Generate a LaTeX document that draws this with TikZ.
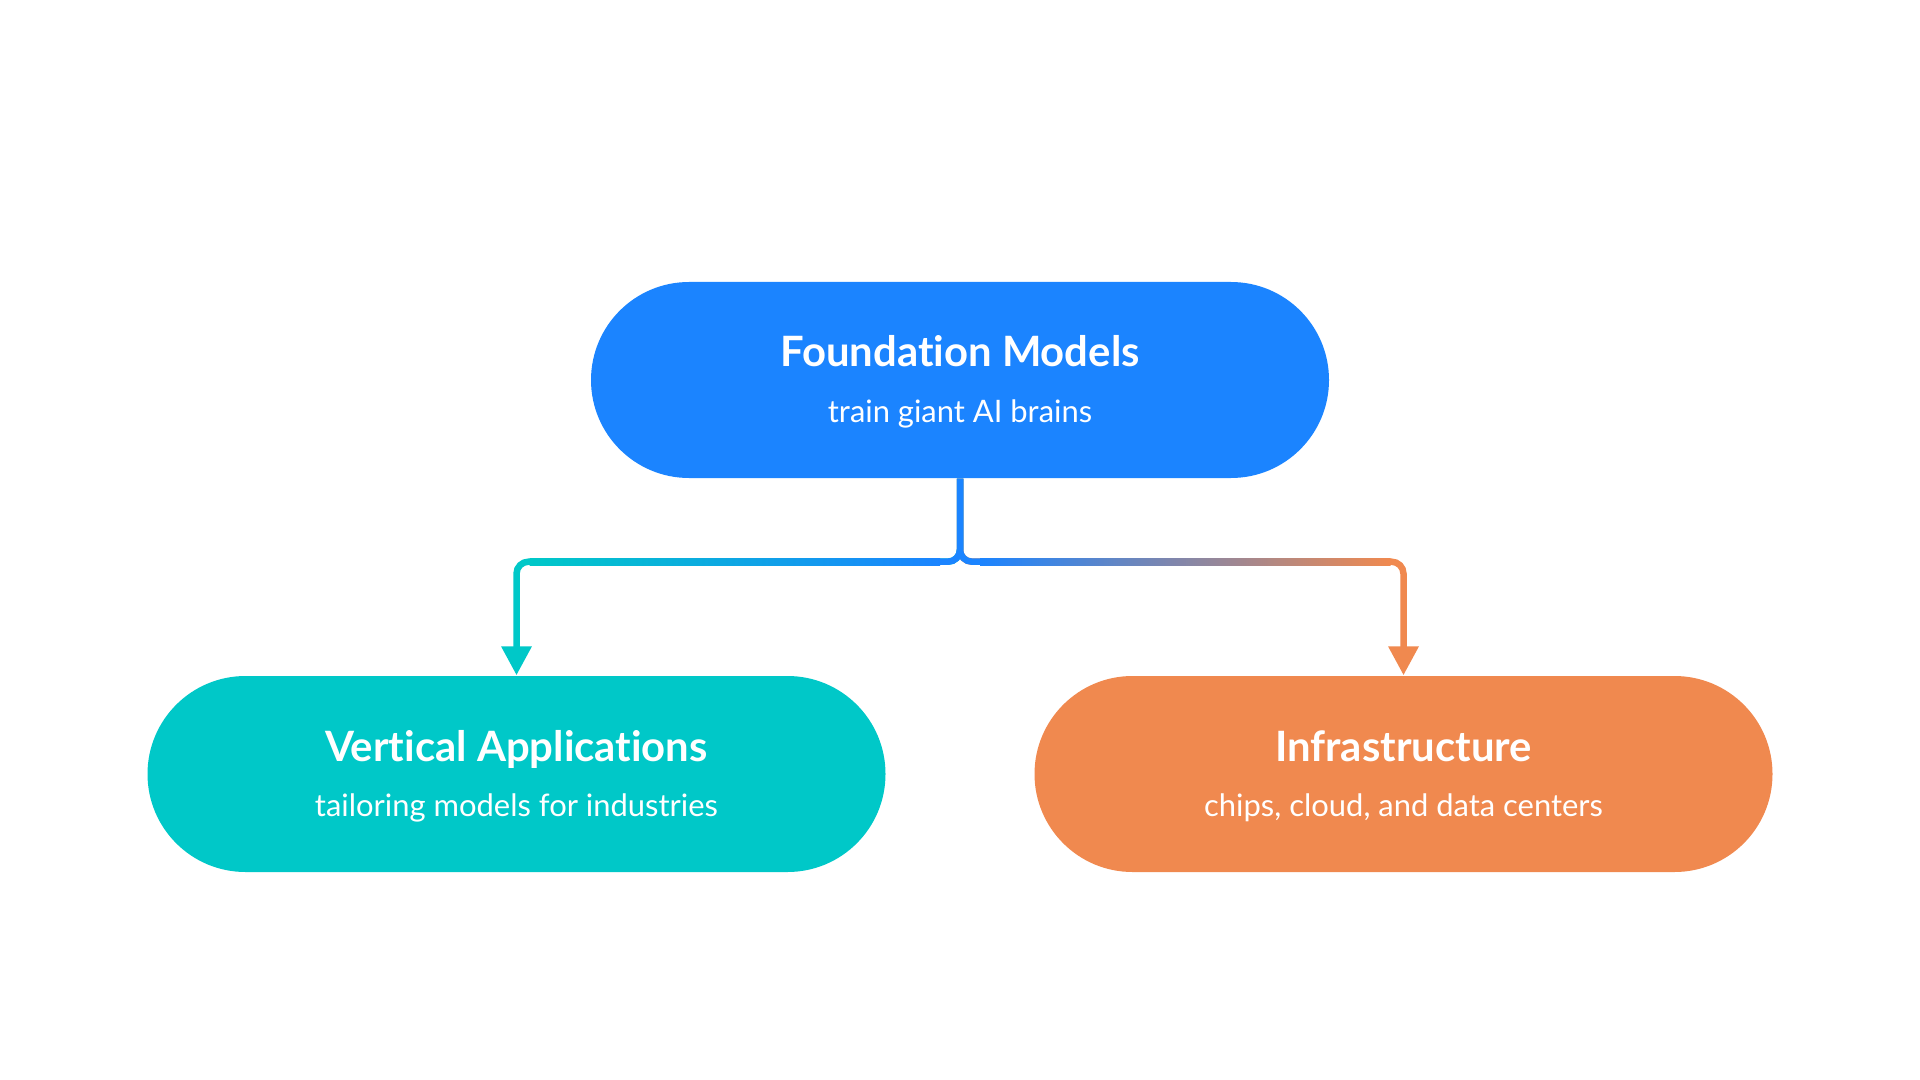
\documentclass[tikz,border=0pt]{standalone}
\usepackage{fontspec}
\setmainfont{Lato}[Ligatures=NoCommon]
\usetikzlibrary{arrows.meta,positioning,calc}

\definecolor{fmblue}{RGB}{27,132,255}
\definecolor{appcyan}{RGB}{0,200,200}
\definecolor{infraorange}{RGB}{240,137,79}

\tikzset{
  pill/.style={draw=none,fill=#1,rounded corners=0.98cm,
    minimum width=7.38cm,minimum height=1.96cm,inner sep=0pt},
  head/.style={anchor=base,text=white,font=\bfseries\fontsize{11.9}{14}\selectfont},
  sub/.style={anchor=base,text=white,font=\fontsize{8.8}{10}\selectfont},
  link/.style={draw=#1,line width=0.065cm,rounded corners=0.12cm},
  tip/.style={-{Triangle[width=0.29cm,length=0.29cm]}},
}

\begin{document}
\begin{tikzpicture}
  \useasboundingbox (0,0) rectangle (19.2,-10.8);

  % the three boxes
  \node[pill=fmblue] (found) at (9.60,-3.80) {};
  \node[pill=appcyan] (apps) at (5.165,-7.74) {};
  \node[pill=infraorange] (infra) at (14.035,-7.74) {};

  % box texts
  \node[head] (foundhead) at ([yshift=0.13cm]found.center) {Foundation Models};
  \node[sub] (foundsub) at ([yshift=-0.42cm]found.center) {train giant AI brains};
  \node[head] (appshead) at ([yshift=0.13cm]apps.center) {Vertical Applications};
  \node[sub] (appssub) at ([yshift=-0.42cm]apps.center) {tailoring models for industries};
  \node[head] (infrahead) at ([yshift=0.13cm]infra.center) {Infrastructure};
  \node[sub] (infrasub) at ([yshift=-0.42cm]infra.center) {chips, cloud, and data centers};

  % fork below the top box
  \coordinate (fork) at ([yshift=-0.83cm]found.south);

  % branches in their end colours
  \draw[link=appcyan,tip,appcyan] (found.south) |- (apps.north |- fork) -- (apps.north);
  \draw[link=infraorange,tip,infraorange] (found.south) |- (infra.north |- fork) -- (infra.north);

  % stem and the fork corners stay blue
  \draw[link=fmblue] (found.south) |- ($(fork)+(-0.2,0)$);
  \draw[link=fmblue] (found.south) |- ($(fork)+(0.2,0)$);

  % colour blend along the straight parts
  \shade[left color=appcyan,right color=fmblue]
    ($(apps.north |- fork)+(0.13,-0.0335)$) rectangle ($(fork)+(-0.2,0.0335)$);
  \shade[left color=fmblue,right color=infraorange]
    ($(fork)+(0.2,-0.0335)$) rectangle ($(infra.north |- fork)+(-0.13,0.0335)$);
\end{tikzpicture}
\end{document}
